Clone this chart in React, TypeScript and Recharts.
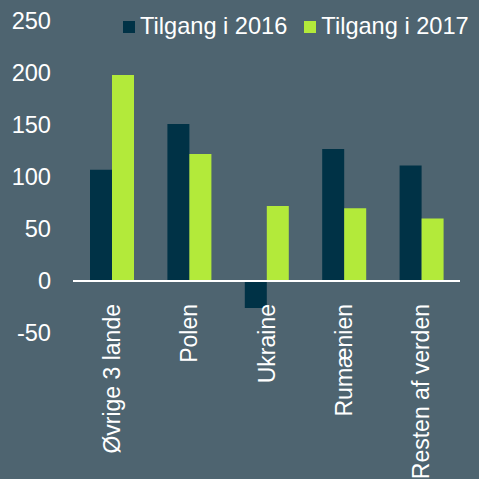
import { BarChart, Bar, XAxis, YAxis, ReferenceLine, Legend } from "recharts";

const categories = ["Øvrige 3 lande", "Polen", "Ukraine", "Rumænien", "Resten af verden"];
const tilgang2016 = [107, 151, -26, 127, 111];
const tilgang2017 = [198, 122, 72, 70, 60];
const yTicks = [-50, 0, 50, 100, 150, 200, 250];

const data = categories.map((name, i) => ({
  name,
  t2016: tilgang2016[i],
  t2017: tilgang2017[i],
}));

const BG = "#4e6470";
const DARK = "#003246";
const GREEN = "#b3ea3a";
const FONT = "'Liberation Sans', Arial, sans-serif";
const FS = 23.6;

const CategoryTick = (props: any) => {
  const { x, y, payload } = props;
  return (
    <text
      x={0}
      y={0}
      transform={`translate(${x},${y - 37}) rotate(-90)`}
      textAnchor="end"
      dy="0.35em"
      fill="#fff"
      fontSize={23}
      fontFamily={FONT}
    >
      {payload.value}
    </text>
  );
};

const LegendContent = (props: any) => {
  const { payload } = props;
  return (
    <div style={{ display: "flex", fontFamily: FONT, fontSize: FS, color: "#fff", whiteSpace: "nowrap" }}>
      {payload.map((p: any, i: number) => (
        <div key={i} style={{ display: "flex", alignItems: "center", marginRight: 17 }}>
          <span style={{ width: 12, height: 12, background: p.color, marginRight: 5, display: "inline-block" }} />
          <span>{p.value}</span>
        </div>
      ))}
    </div>
  );
};

const App = () => {
  return (
    <div style={{ position: "absolute", left: 0, top: 0, width: 479, height: 479, background: BG }}>
      <BarChart
        width={479}
        height={479}
        data={data}
        margin={{ top: 21, right: 19, left: 0, bottom: 0 }}
        barGap={0}
        barSize={22}
      >
        <XAxis
          dataKey="name"
          axisLine={false}
          tickLine={false}
          height={146}
          interval={0}
          tick={<CategoryTick />}
        />
        <YAxis
          domain={[-50, 250]}
          ticks={yTicks}
          axisLine={false}
          tickLine={false}
          tickSize={0}
          tickMargin={22}
          width={73}
          tick={{ fill: "#fff", fontSize: FS, fontFamily: FONT }}
        />
        <Legend
          layout="horizontal"
          verticalAlign="middle"
          align="center"
          content={<LegendContent />}
          wrapperStyle={{ top: 13, left: 123, width: 360 }}
        />
        <Bar dataKey="t2016" name="Tilgang i 2016" fill={DARK} isAnimationActive={false} />
        <Bar dataKey="t2017" name="Tilgang i 2017" fill={GREEN} isAnimationActive={false} />
        <ReferenceLine y={0} stroke="#fff" strokeWidth={2} />
      </BarChart>
    </div>
  );
};

export default App;
